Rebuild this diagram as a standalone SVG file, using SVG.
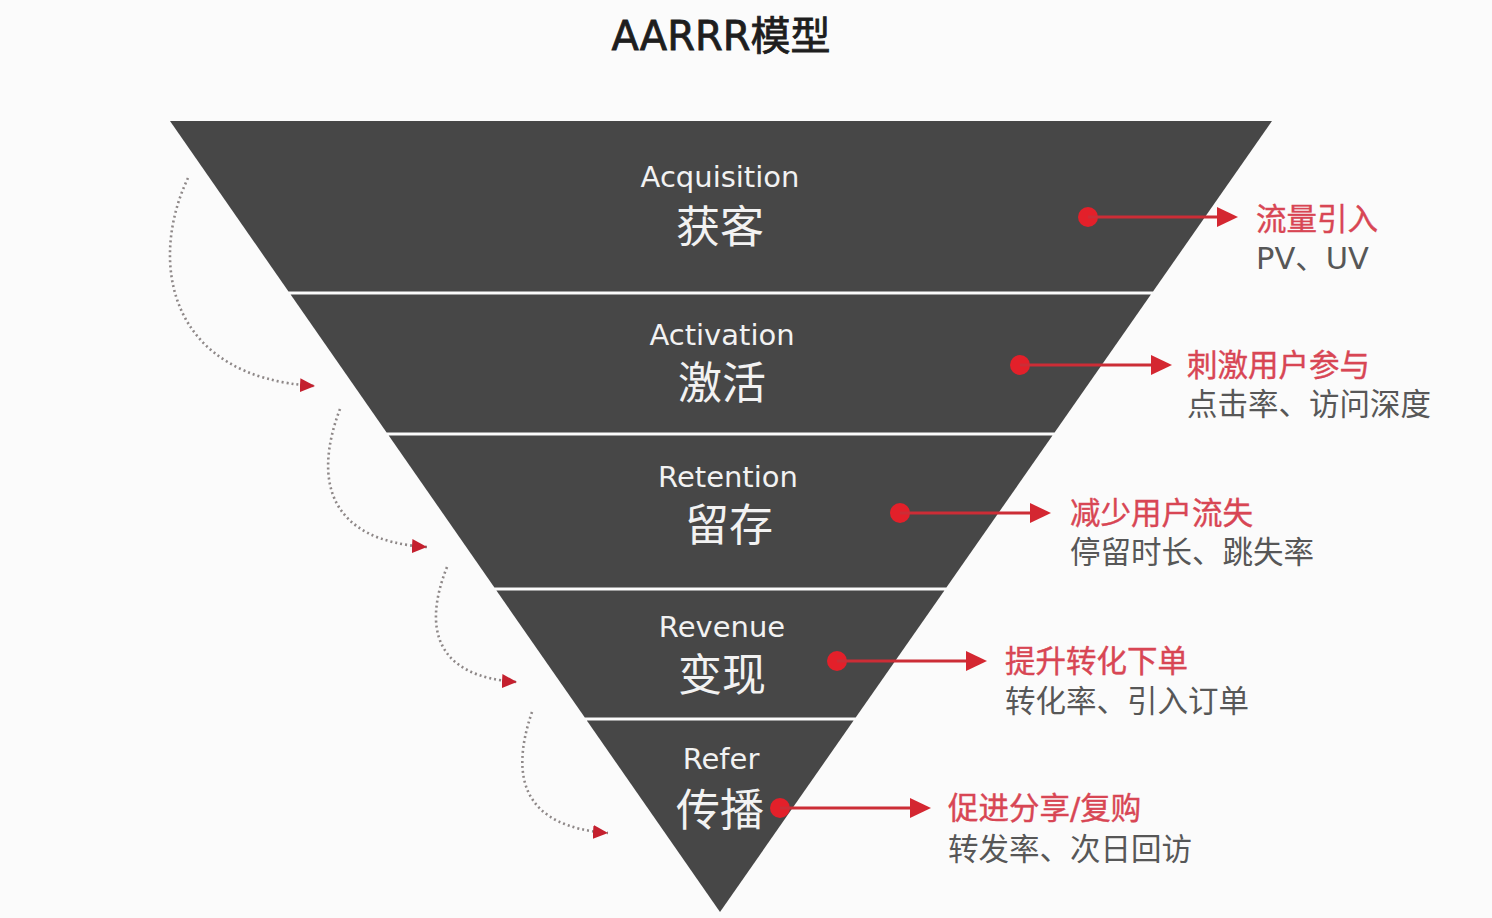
<svg xmlns="http://www.w3.org/2000/svg" width="1492" height="918" viewBox="0 0 1492 918">
<style>
.band{fill:#474747}
.en{font-family:"DejaVu Sans","Noto Sans CJK SC",sans-serif;font-size:29px;fill:#f2f2f2;text-anchor:middle}
.cn{font-family:"Noto Sans CJK SC",sans-serif;font-size:44px;fill:#f2f2f2;text-anchor:middle}
.rt{font-family:"DejaVu Sans","Noto Sans CJK SC",sans-serif;font-size:30.5px;fill:#d84654;stroke:#d84654;stroke-width:0.4}
.gt{font-family:"DejaVu Sans","Noto Sans CJK SC",sans-serif;font-size:30.5px;fill:#575757}
.title{font-family:"DejaVu Sans","Noto Sans CJK SC",sans-serif;font-size:40px;fill:#1e1e1e;stroke:#1e1e1e;stroke-width:0.8;text-anchor:middle}
.rl{stroke:#cc2d36;stroke-width:3;fill:none}
.dot{fill:#e3202a}
.dl{stroke:#8e8888;stroke-width:2.6;fill:none;stroke-dasharray:2 3}
</style>
<defs>
<marker id="ra" markerUnits="userSpaceOnUse" markerWidth="22" markerHeight="20" refX="11" refY="10" orient="auto">
<path d="M0,0 L21,10 L0,20 Z" fill="#d42731"/>
</marker>
<marker id="da" markerUnits="userSpaceOnUse" markerWidth="16" markerHeight="14" refX="15" refY="7" orient="auto">
<path d="M0,0 L15,7 L0,14 Z" fill="#c4202e"/>
</marker>
</defs>
<rect width="1492" height="918" fill="#fbfbfb"/>
<text class="title" x="721" y="50">AARRR模型</text>

<g id="acquisition">
<polygon class="band" points="170,121 1272,121 1153,291.5 288.5,291.5"/>
<text class="en" x="720" y="187">Acquisition</text>
<text class="cn" x="720" y="243">获客</text>
</g>
<g id="activation">
<polygon class="band" points="290.6,294.5 1150.9,294.5 1054.6,432.5 386.6,432.5"/>
<text class="en" x="722" y="345">Activation</text>
<text class="cn" x="722" y="399">激活</text>
</g>
<g id="retention">
<polygon class="band" points="388.7,435.5 1052.5,435.5 946.4,587.5 494.4,587.5"/>
<text class="en" x="728" y="487">Retention</text>
<text class="cn" x="729" y="541">留存</text>
</g>
<g id="revenue">
<polygon class="band" points="496.4,590.5 944.4,590.5 855.7,717.5 584.8,717.5"/>
<text class="en" x="722" y="637">Revenue</text>
<text class="cn" x="722" y="691">变现</text>
</g>
<g id="refer">
<polygon class="band" points="586.8,720.5 853.6,720.5 720,912"/>
<text class="en" x="721" y="769">Refer</text>
<text class="cn" x="720" y="826">传播</text>
</g>

<g id="connectors">
<path class="dl" d="M188,178 C148,262 168,378 315,386" marker-end="url(#da)"/>
<path class="dl" d="M340,409 C313,480 328,541 427,547" marker-end="url(#da)"/>
<path class="dl" d="M447,567 C422,630 437,677 517,682" marker-end="url(#da)"/>
<path class="dl" d="M532,712 C508,782 527,827 608,833" marker-end="url(#da)"/>

<circle class="dot" cx="1088" cy="217" r="10"/>
<line class="rl" x1="1088" y1="217" x2="1228" y2="217" marker-end="url(#ra)"/>
<circle class="dot" cx="1020" cy="365" r="10"/>
<line class="rl" x1="1020" y1="365" x2="1162" y2="365" marker-end="url(#ra)"/>
<circle class="dot" cx="900" cy="513" r="10"/>
<line class="rl" x1="900" y1="513" x2="1041" y2="513" marker-end="url(#ra)"/>
<circle class="dot" cx="837" cy="661" r="10"/>
<line class="rl" x1="837" y1="661" x2="977" y2="661" marker-end="url(#ra)"/>
<circle class="dot" cx="780" cy="808" r="10"/>
<line class="rl" x1="780" y1="808" x2="921" y2="808" marker-end="url(#ra)"/>
</g>

<g id="note-acquisition">
<text class="rt" x="1256" y="230">流量引入</text>
<text class="gt" x="1256" y="269" font-size="32">PV、UV</text>
</g>
<g id="note-activation">
<text class="rt" x="1187" y="376">刺激用户参与</text>
<text class="gt" x="1187" y="415">点击率、访问深度</text>
</g>
<g id="note-retention">
<text class="rt" x="1070" y="524">减少用户流失</text>
<text class="gt" x="1070" y="563">停留时长、跳失率</text>
</g>
<g id="note-revenue">
<text class="rt" x="1005" y="672">提升转化下单</text>
<text class="gt" x="1005" y="712">转化率、引入订单</text>
</g>
<g id="note-refer">
<text class="rt" x="948" y="819">促进分享/复购</text>
<text class="gt" x="948" y="860">转发率、次日回访</text>
</g>
</svg>
